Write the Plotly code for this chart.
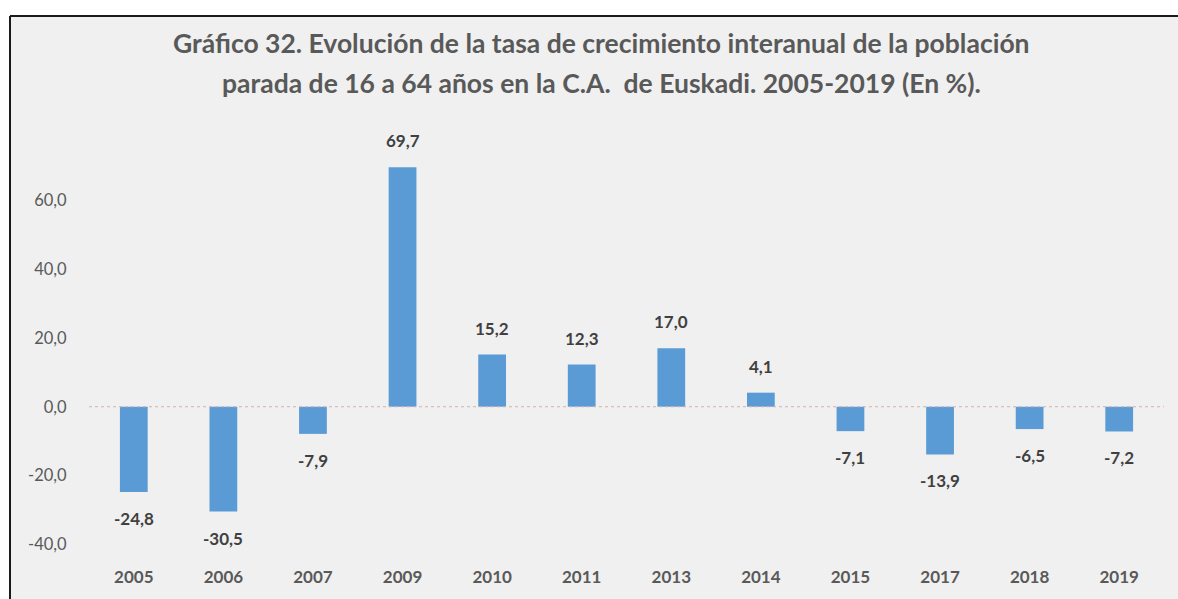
import plotly.graph_objects as go

years = ["2005", "2006", "2007", "2009", "2010", "2011", "2013", "2014", "2015", "2017", "2018", "2019"]
values = [-24.8, -30.5, -7.9, 69.7, 15.2, 12.3, 17.0, 4.1, -7.1, -13.9, -6.5, -7.2]
y_ticks = [-40, -20, 0, 20, 40, 60]
title_lines = [
    "Gráfico 32. Evolución de la tasa de crecimiento interanual de la población",
    "parada de 16 a 64 años en la C.A.  de Euskadi. 2005-2019 (En %).",
]

FONT = "Lato"
W, H = 1178, 599
L, R, T, B = 89, 14, 132, 48
plot_h = H - T - B

def py(pix):
    return (H - B - pix) / plot_h

def px(pix):
    return (pix - L) / (W - L - R)

def fmt(v):
    return f"{v:.1f}".replace(".", ",")

fig = go.Figure()
fig.add_trace(go.Bar(
    x=years, y=values,
    marker=dict(color="#5b9bd5", line=dict(width=0)),
    width=0.31,
    hoverinfo="skip",
))

annotations = []
for i, v in enumerate(values):
    annotations.append(dict(
        x=i, y=v, xref="x", yref="y",
        text="<b>" + fmt(v) + "</b>",
        showarrow=False,
        yanchor="bottom" if v >= 0 else "top",
        yshift=14 if v >= 0 else -14,
        font=dict(family=FONT, size=17, color="#404040"),
    ))
for line, ypix in zip(title_lines, [43, 83]):
    annotations.append(dict(
        x=px(601), y=py(ypix), xref="paper", yref="paper",
        text="<b>" + line + "</b>", showarrow=False,
        xanchor="center", yanchor="middle",
        font=dict(family=FONT, size=26.5, color="#595959"),
    ))

border = dict(color="#1a1a1a", width=2)
shapes = [
    dict(type="rect", xref="paper", yref="paper",
         x0=px(10), x1=px(1190), y0=py(610), y1=py(16),
         fillcolor="#f0f0f0", line=dict(width=0), layer="below"),
    dict(type="line", xref="paper", yref="paper",
         x0=px(10), x1=px(1190), y0=py(16), y1=py(16), line=border, layer="below"),
    dict(type="line", xref="paper", yref="paper",
         x0=px(10), x1=px(10), y0=py(16), y1=py(610), line=border, layer="below"),
    dict(type="line", xref="paper", yref="y", x0=0, x1=1, y0=0, y1=0,
         line=dict(color="#d4b0b0", width=1, dash="dot"), layer="above"),
]

fig.update_layout(
    width=W, height=H,
    margin=dict(l=L, r=R, t=T, b=B, autoexpand=False),
    paper_bgcolor="white",
    plot_bgcolor="rgba(0,0,0,0)",
    showlegend=False,
    annotations=annotations,
    shapes=shapes,
    xaxis=dict(
        type="category", range=[-0.5, len(years) - 0.5],
        showgrid=False, zeroline=False, showline=False,
        ticks="outside", ticklen=11, tickcolor="rgba(0,0,0,0)",
        tickfont=dict(family=FONT, size=17, color="#595959"),
        tickprefix="<b>", ticksuffix="</b>",
    ),
    yaxis=dict(
        range=[-42, 80], tickvals=y_ticks, ticktext=[fmt(t) for t in y_ticks],
        showgrid=False, zeroline=False, showline=False,
        ticks="outside", ticklen=18, tickcolor="rgba(0,0,0,0)",
        tickfont=dict(family=FONT, size=16.5, color="#595959"),
    ),
)

fig.write_html(
    "out.html",
    config={"displayModeBar": False},
    post_script="document.body.style.margin='0px';document.body.style.overflow='hidden';",
)
